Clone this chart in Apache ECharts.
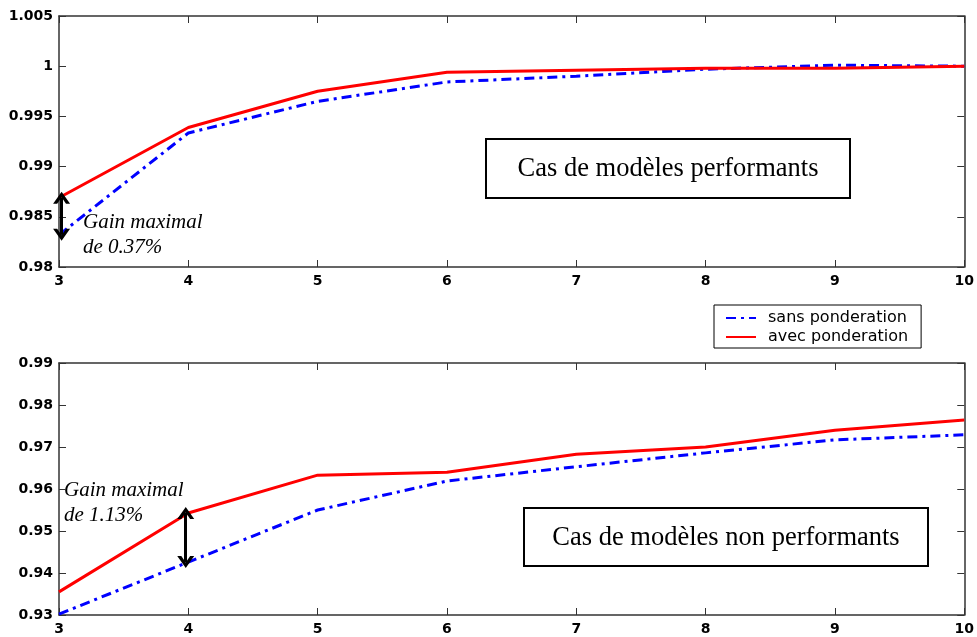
<!DOCTYPE html>
<html><head><meta charset="utf-8">
<script src="https://cdn.jsdelivr.net/npm/echarts@6/dist/echarts.min.js"></script>
<style>html,body{margin:0;padding:0;background:#fff}#c{width:977px;height:637px}</style>
</head><body><div id="c"></div>
<script>
const xValues = [3, 4, 5, 6, 7, 8, 9, 10];
const topSans = [0.9832, 0.99335, 0.9965, 0.99843, 0.9990, 0.9997, 1.0001, 1.0000];
const topAvec = [0.9869, 0.9939, 0.9975, 0.9994, 0.9996, 0.9998, 0.9998, 1.0000];
const botSans = [0.9302, 0.9426, 0.9550, 0.9619, 0.9653, 0.9686, 0.9717, 0.9729];
const botAvec = [0.9355, 0.9543, 0.9633, 0.9640, 0.9683, 0.9700, 0.9740, 0.9764];
const seriesNames = ['sans ponderation', 'avec ponderation'];
const topTitle = 'Cas de modèles performants';
const botTitle = 'Cas de modèles non performants';
const topGain = ['Gain maximal', 'de 0.37%'];
const botGain = ['Gain maximal', 'de 1.13%'];

const pair = (arr) => xValues.map((x, i) => [x, arr[i]]);
const chart = echarts.init(document.getElementById('c'));
const axisCol = '#333';
const lbl = {color: '#000', fontFamily: 'DejaVu Sans', fontSize: 14, fontWeight: 'bold'};
const chev = 'path://M0,10 L5,0 L10,10 L7.6,10 L5,4.6 L2.4,10 Z';
function xAx(gi, pos, show) {
  return {type: 'value', gridIndex: gi, position: pos, min: 3, max: 10, interval: 1,
    axisLine: {show: true, lineStyle: {color: axisCol, width: 1.5}},
    axisTick: {show: true, inside: true, length: 7, lineStyle: {color: axisCol}},
    axisLabel: Object.assign({show: show, margin: 7}, lbl), splitLine: {show: false}};
}
function yAx(gi, pos, show, min, max, iv, dec) {
  return {type: 'value', gridIndex: gi, position: pos, min: min, max: max, interval: iv,
    axisLine: {show: true, lineStyle: {color: axisCol, width: 1.5}},
    axisTick: {show: true, inside: true, length: 7, lineStyle: {color: axisCol}},
    axisLabel: Object.assign({show: show, margin: 6, formatter: v => String(parseFloat(v.toFixed(dec)))}, lbl),
    splitLine: {show: false}};
}
function gainLine(x, y1, y2) {
  return {silent: true, symbol: [chev, chev], symbolSize: [17, 12],
    lineStyle: {color: '#000', width: 3, type: 'solid'}, itemStyle: {color: '#000'}, label: {show: false},
    emphasis: {disabled: true}, animation: false,
    data: [[{coord: [x, y1]}, {coord: [x, y2]}]]};
}
const sansStyle = {color: '#0000ff', width: 3, type: [10, 5, 3, 5]};
const avecStyle = {color: '#ff0000', width: 3, type: 'solid'};
function textBox(left, top, w, h, txt, fs) {
  return {type: 'group', left: left, top: top, children: [
    {type: 'rect', shape: {x: 0, y: 0, width: w, height: h}, style: {fill: '#fff', stroke: '#000', lineWidth: 2}},
    {type: 'text', x: w / 2, y: h / 2 + 1, style: {text: txt, font: fs + 'px "Liberation Serif"', fill: '#000', align: 'center', verticalAlign: 'middle'}}
  ]};
}
function gainText(left, top, lines) {
  return {type: 'text', left: left, top: top, style: {text: lines.join('\n'), font: 'italic 21px "Liberation Serif"', fill: '#000', lineHeight: 25}};
}
chart.setOption({
  animation: false,
  grid: [
    {left: 59, right: 9, top: 16, height: 251},
    {left: 59, right: 9, top: 363, height: 252}
  ],
  xAxis: [xAx(0, 'bottom', true), xAx(0, 'top', false), xAx(1, 'bottom', true), xAx(1, 'top', false)],
  yAxis: [
    yAx(0, 'left', true, 0.98, 1.005, 0.005, 3), yAx(0, 'right', false, 0.98, 1.005, 0.005, 3),
    yAx(1, 'left', true, 0.93, 0.99, 0.01, 2), yAx(1, 'right', false, 0.93, 0.99, 0.01, 2)
  ],
  legend: {
    left: 714, top: 305, orient: 'vertical', itemGap: 3, itemWidth: 30, itemHeight: 14,
    padding: [5, 13, 3, 11], borderColor: '#000', borderWidth: 1, backgroundColor: '#fff',
    itemStyle: {color: 'rgba(0,0,0,0)', borderWidth: 0, opacity: 0},
    textStyle: {fontFamily: 'DejaVu Sans', fontSize: 16, color: '#000', padding: [0, 0, 0, 7]},
    data: seriesNames
  },
  series: [
    {name: seriesNames[0], type: 'line', xAxisIndex: 0, yAxisIndex: 0, data: pair(topSans), symbol: 'none', lineStyle: sansStyle, itemStyle: {color: '#0000ff'}, z: 2},
    {name: seriesNames[1], type: 'line', xAxisIndex: 0, yAxisIndex: 0, data: pair(topAvec), symbol: 'none', lineStyle: avecStyle, itemStyle: {color: '#ff0000'}, z: 3,
      markLine: gainLine(3.02, topAvec[0], topSans[0])},
    {name: seriesNames[0], type: 'line', xAxisIndex: 2, yAxisIndex: 2, data: pair(botSans), symbol: 'none', lineStyle: sansStyle, itemStyle: {color: '#0000ff'}, z: 2},
    {name: seriesNames[1], type: 'line', xAxisIndex: 2, yAxisIndex: 2, data: pair(botAvec), symbol: 'none', lineStyle: avecStyle, itemStyle: {color: '#ff0000'}, z: 3,
      markLine: gainLine(3.98, botAvec[1], botSans[1])}
  ],
  graphic: [
    textBox(485, 138, 364, 59, topTitle, 26.5),
    textBox(523, 507, 404, 58, botTitle, 26.5),
    gainText(83, 210, topGain),
    gainText(64, 478, botGain)
  ]
});
</script></body></html>
